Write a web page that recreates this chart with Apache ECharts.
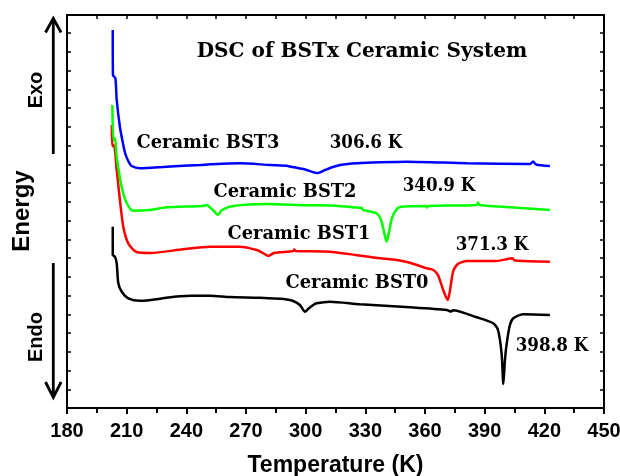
<!DOCTYPE html>
<html>
<head>
<meta charset="utf-8">
<script src="https://cdn.jsdelivr.net/npm/echarts@6/dist/echarts.min.js"></script>
<style>html,body{margin:0;padding:0;background:#fff;}#c{width:620px;height:476px;}</style>
</head>
<body>
<div id="c"></div>
<script>
// Temperature (K) vs. relative energy (arbitrary units, offset curves)
const bst3 = [[203.0,378],[203.1,333],[204.3,330],[205.0,308],[206.6,281],[208.0,266],[209.2,255],[210.8,247],[212.5,242],[216.7,239.7],[230.1,241.3],[246.9,243],[251.9,243.7],[267.0,244.7],[282.1,243],[290.5,242.3],[292.1,241.5],[299.7,238.5],[305.8,235],[309.7,238],[313.7,241],[317.3,243],[325.7,244.7],[337.4,245.7],[350.9,246.3],[381.0,244.7],[412.8,244],[414.4,246.5],[415.8,243.5],[422.8,242]];
const bst2 = [[202.8,303],[203.3,268],[204.1,270],[205.0,251],[207.5,221],[210.0,205],[213.3,197.3],[221.7,198],[230.1,200.7],[248.4,202],[250.4,203],[251.9,200.5],[253.9,197],[255.8,193],[257.9,198],[263.5,202],[280.4,204],[300.5,202.7],[312.2,202.5],[322.3,201],[328.2,200],[329.0,198],[335.7,194.5],[337.9,188],[339.4,176],[340.7,166.3],[341.9,176],[343.4,190],[345.4,198],[347.4,201],[360.5,202],[361.0,200.5],[361.6,202],[386.0,203],[386.6,205.5],[387.4,203],[406.1,200.3],[422.8,198]];
const bst1 = [[202.5,283],[202.8,262],[203.6,263],[205.0,238],[206.6,208],[208.3,181.3],[210.8,164.7],[215.0,156],[221.7,155],[238.3,158.7],[251.9,161.3],[267.0,161.3],[275.4,158],[278.5,155],[281.2,152],[284.0,155],[287.1,155.7],[293.8,157],[294.3,158.5],[294.8,157],[312.2,156.3],[337.4,149.7],[345.8,148],[352.4,145.3],[360.8,139.7],[364.2,138],[366.5,133],[367.8,126],[369.5,116],[371.4,108],[372.6,118],[373.5,130],[374.4,138],[376.5,144],[379.2,146.3],[381.0,147],[396.0,147],[404.0,149.7],[405.2,147.5],[422.8,146.3]];
const bst0 = [[203.0,181.3],[203.0,153],[204.1,151.3],[205.0,144.7],[205.8,124.7],[207.5,116.3],[210.8,109.7],[216.7,107.3],[220.0,107.5],[226.0,109],[231.0,110.5],[236.8,111.7],[242.0,112.3],[251.9,112.3],[262.0,111],[277.0,110.3],[287.1,109.2],[290.5,108.5],[293.8,107],[297.1,103],[299.7,96.3],[301.2,99],[303.8,103],[305.5,104.7],[312.2,106.3],[327.3,103.7],[352.4,100.7],[370.9,98],[373.1,96.5],[374.0,97.8],[386.0,90.7],[394.3,84.7],[396.7,78],[398.5,54.7],[399.4,24],[400.2,48],[401.1,64.7],[402.7,83],[404.4,89.7],[409.4,93.7],[422.8,93]];

const seriesNames = ['Ceramic BST0','Ceramic BST1','Ceramic BST2','Ceramic BST3'];
const seriesColors = ['#000000','#ff0000','#00ff00','#0000ff'];
const seriesData = [bst0, bst1, bst2, bst3];
const xTicks = [180,210,240,270,300,330,360,390,420,450];
const peakLabels = ['398.8 K','371.3 K','340.9 K','306.6 K'];

const chart = echarts.init(document.getElementById('c'), null, {renderer:'canvas'});
const serifBold = 'bold 19px "DejaVu Serif"';
const sansBold = '"Liberation Sans", Arial, sans-serif';

function txt(text, x, y, font, rot, sx){
  return {type:'text', x:x, y:y, rotation: rot||0, scaleX: sx||1, z:100,
    style:{text:text, font:font, fill:'#000', align:'center', verticalAlign:'middle', textAlign:'center', textVerticalAlign:'middle'}};
}
function line(points, w){
  return {type:'polyline', z:100, shape:{points:points}, style:{stroke:'#000', lineWidth:w||2.5, fill:null}};
}

const option = {
  animation:false,
  backgroundColor:'#fff',
  grid:{left:67, right:16, top:15, bottom:68, containLabel:false, outerBoundsMode:'none'},
  xAxis:[{
    type:'value', min:180, max:450, interval:30, position:'bottom',
    axisLine:{show:true, onZero:false, lineStyle:{color:'#000', width:2}},
    axisTick:{show:true, inside:false, length:6, lineStyle:{color:'#000', width:2}},
    minorTick:{show:true, splitNumber:2, length:5, lineStyle:{color:'#000', width:2}},
    splitLine:{show:false},
    axisLabel:{color:'#000', fontFamily:sansBold, fontWeight:'bold', fontSize:20, margin:13,
      formatter:function(v){ return xTicks.indexOf(v)>=0 ? String(v) : ''; }},
    name:'Temperature (K)', nameLocation:'middle', nameGap:46,
    nameTextStyle:{color:'#000', fontFamily:sansBold, fontWeight:'bold', fontSize:23}
  },{
    type:'value', min:180, max:450, interval:15, position:'top',
    axisLine:{show:true, onZero:false, lineStyle:{color:'#000', width:2}},
    axisTick:{show:true, inside:true, length:4, lineStyle:{color:'#000', width:1.5}},
    axisLabel:{show:false}, splitLine:{show:false}
  }],
  yAxis:[{
    type:'value', min:0, max:393, interval:18.75, position:'left',
    axisLine:{show:true, onZero:false, lineStyle:{color:'#000', width:2}},
    axisTick:{show:true, inside:true, length:4, lineStyle:{color:'#000', width:1.5}},
    axisLabel:{show:false}, splitLine:{show:false}
  },{
    type:'value', min:0, max:393, interval:18.75, position:'right',
    axisLine:{show:true, onZero:false, lineStyle:{color:'#000', width:2}},
    axisTick:{show:true, inside:true, length:4, lineStyle:{color:'#000', width:1.5}},
    axisLabel:{show:false}, splitLine:{show:false}
  }],
  series: seriesData.map(function(d,i){
    return {name:seriesNames[i], type:'line', data:d, xAxisIndex:0, yAxisIndex:0,
      showSymbol:false, symbol:'none', smooth:0.25,
      lineStyle:{color:seriesColors[i], width:2.5}, z:2+i};
  }),
  graphic:[
    txt('DSC of BSTx Ceramic System', 362, 52, 'bold 20.5px "DejaVu Serif"', 0, 0.98),
    txt(seriesNames[3], 208, 143, serifBold, 0, 0.94),
    txt(peakLabels[3], 366, 143, serifBold, 0, 0.88),
    txt(seriesNames[2], 285, 192, serifBold, 0, 0.94),
    txt(peakLabels[2], 439, 186, serifBold, 0, 0.88),
    txt(seriesNames[1], 299, 234, serifBold, 0, 0.94),
    txt(peakLabels[1], 492, 245, serifBold, 0, 0.88),
    txt(seriesNames[0], 357, 283, serifBold, 0, 0.94),
    txt(peakLabels[0], 552, 346, serifBold, 0, 0.88),
    txt('Energy', 22, 211, 'bold 24px "Liberation Sans"', Math.PI/2),
    txt('Exo', 36, 90, 'bold 20px "Liberation Sans"', Math.PI/2),
    txt('Endo', 36, 337, 'bold 20px "Liberation Sans"', Math.PI/2),
    line([[53.3,154],[53.3,20]], 2.8),
    line([[45.5,32.5],[53.3,18.5],[61.1,32.5]], 2.8),
    line([[53.3,263],[53.3,396]], 2.8),
    line([[45.5,382],[53.3,397.5],[61.1,382]], 2.8)
  ]
};
chart.setOption(option);
</script>
</body>
</html>
